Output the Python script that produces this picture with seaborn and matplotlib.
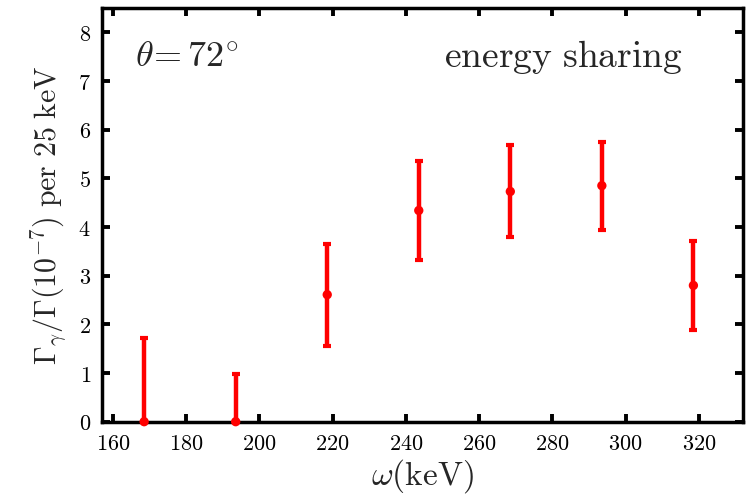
import numpy as np
import pandas as pd
import matplotlib
matplotlib.use("Agg")
import matplotlib.pyplot as plt
import seaborn as sns

# photon energy bins (keV) and emission ratio (units of 1e-7 per 25 keV)
omega = [168.5, 193.5, 218.5, 243.5, 268.5, 293.5, 318.5]
ratio = [0.0, 0.0, 2.61, 4.34, 4.73, 4.85, 2.80]
err_low = [0.0, 0.0, 1.05, 1.01, 0.94, 0.91, 0.91]
err_high = [1.72, 0.97, 1.05, 1.01, 0.96, 0.89, 0.92]

x_ticks = [160, 180, 200, 220, 240, 260, 280, 300, 320]
y_ticks = [0, 1, 2, 3, 4, 5, 6, 7, 8]

sns.set_theme(style="ticks")
plt.rcParams["mathtext.fontset"] = "cm"
plt.rcParams["font.family"] = ["DejaVu Serif"]

df = pd.DataFrame({"omega": omega, "ratio": ratio})

fig = plt.figure(figsize=(7.53, 5.00), dpi=100)
ax = fig.add_axes([0.1355, 0.1566, 0.851, 0.8274])

ax.errorbar(omega, ratio, yerr=[err_low, err_high], fmt="none",
            ecolor="#ff0000", elinewidth=3.2, capsize=3.0, capthick=3.0,
            zorder=3)
sns.scatterplot(data=df, x="omega", y="ratio", ax=ax, color="#ff0000",
                s=45, edgecolor="none", zorder=4, clip_on=False)

ax.set_xlim(157, 332)
ax.set_ylim(0, 8.5)
ax.set_xticks(x_ticks)
ax.set_yticks(y_ticks)
ax.set_xticklabels([f"${v}$" for v in x_ticks], fontsize=16)
ax.set_yticklabels([f"${v}$" for v in y_ticks], fontsize=16)

ax.tick_params(direction="in", length=6, width=2.8, top=True, right=True,
               colors="black", pad=8)
for s in ax.spines.values():
    s.set_linewidth(2.5)
    s.set_color("black")

ax.set_xlabel(r"$\omega(\mathrm{keV})$", fontsize=24, labelpad=2)
ax.set_ylabel(r"$\Gamma_\gamma/\Gamma(10^{-7})\ \mathrm{per\ 25\ keV}$",
              fontsize=21.5, labelpad=6)

ax.text(0.051, 0.857, r"$\theta\!=72^{\circ}$", transform=ax.transAxes,
        fontsize=26, va="baseline", ha="left")
ax.text(0.906, 0.857, r"$\mathrm{energy\ sharing}$", transform=ax.transAxes,
        fontsize=27, va="baseline", ha="right")

fig.savefig("out.png", dpi=100)
